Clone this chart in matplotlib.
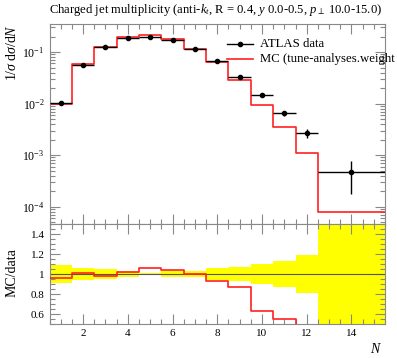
import numpy as np
import matplotlib
matplotlib.use("Agg")
import matplotlib.pyplot as plt
from matplotlib.ticker import MultipleLocator, LogLocator, NullFormatter, FixedLocator

plt.rcParams['font.family'] = ['Liberation Serif', 'DejaVu Serif']
plt.rcParams['mathtext.fontset'] = 'custom'
plt.rcParams['mathtext.rm'] = 'Liberation Serif'
plt.rcParams['mathtext.it'] = 'Liberation Serif:italic'

# ---- data ----
bin_lo = [0.5, 1.5, 2.5, 3.5, 4.5, 5.5, 6.5, 7.5, 8.5, 9.5, 10.5, 11.5, 12.5]
bin_hi = [1.5, 2.5, 3.5, 4.5, 5.5, 6.5, 7.5, 8.5, 9.5, 10.5, 11.5, 12.5, 15.5]
data_x = [1, 2, 3, 4, 5, 6, 7, 8, 9, 10, 11, 12, 14]
data_y = [0.0104, 0.0568, 0.127, 0.19, 0.20, 0.175, 0.116, 0.0678, 0.0332,
          0.0148, 0.00646, 0.00264, 4.74e-4]
data_relerr = [0.088, 0.063, 0.046, 0.027, 0.01, 0.03, 0.03, 0.06, 0.07,
               0.10, 0.13, 0.19, 0.63]
mc_y = [0.00994, 0.0575, 0.124, 0.193, 0.212, 0.182, 0.1157, 0.0631, 0.0289,
        0.00932, 0.00355, 0.00111, 7.9e-5]

title = r"Charged jet multiplicity (anti-$k_t$, R = 0.4, $y$ 0.0-0.5, $p_\perp$ 10.0-15.0)"
data_label = "ATLAS data"
mc_label = "MC (tune-analyses.weight"

W, H = 397, 358
fig = plt.figure(figsize=(W / 100, H / 100), dpi=100)
L, R = 49.5 / W, 385 / W
ax = fig.add_axes([L, 1 - 224 / H, R - L, 200 / H])
rax = fig.add_axes([L, 1 - 324 / H, R - L, 100 / H])

edges = np.array(bin_lo + [bin_hi[-1]])
dy = np.array(data_y)
derr = dy * np.array(data_relerr)
mcy = np.array(mc_y)

def step_vals(v):
    return np.append(v, v[-1])

# main panel
ax.step(edges, step_vals(mcy), where='post', color='#ff2020', lw=1.2, zorder=2)
xerr_lo = np.array(data_x) - np.array(bin_lo)
xerr_hi = np.array(bin_hi) - np.array(data_x)
ax.errorbar(data_x, dy, yerr=derr, xerr=[xerr_lo, xerr_hi], fmt='o', color='black',
            ms=3, lw=1, elinewidth=1, capsize=0, zorder=3)
ax.set_yscale('log')
ax.set_xlim(0.5, 15.5)
ax.set_ylim(4.6e-5, 0.35)

# legend (manual)
def px2ax(x, y):
    bb = ax.get_position()
    return ((x / W - bb.x0) / bb.width, ((1 - y / H) - bb.y0) / bb.height)
lx0, lx1 = 226.7, 253
a0 = px2ax(lx0, 44); a1 = px2ax(lx1, 44)
ax.plot([a0[0], a1[0]], [a0[1], a1[1]], color='black', lw=1, transform=ax.transAxes, clip_on=False)
am = px2ax(240, 44)
ax.plot([am[0]], [am[1]], 'o', color='black', ms=3, transform=ax.transAxes, clip_on=False)
b0 = px2ax(lx0, 59); b1 = px2ax(lx1, 59)
ax.plot([b0[0], b1[0]], [b0[1], b1[1]], color='#ff2020', lw=1.2, transform=ax.transAxes, clip_on=False)
t0 = px2ax(260.5, 44); t1 = px2ax(260.5, 59)
ax.text(t0[0], t0[1], data_label, transform=ax.transAxes, fontsize=9.2, va='center', ha='left')
ax.text(t1[0], t1[1], mc_label, transform=ax.transAxes, fontsize=9.2, va='center', ha='left')

# ratio panel
ratio_mc = mcy / dy
rel = np.array(data_relerr)
rax.fill_between(edges, step_vals(1 - rel), step_vals(1 + rel), step='post',
                 color='#ffff00', lw=0, zorder=1)
rax.axhline(1.0, color='#555555', lw=0.8, zorder=2)
rax.step(edges, step_vals(ratio_mc), where='post', color='#ff2020', lw=1.2, zorder=3)
rax.set_xlim(0.5, 15.5)
rax.set_ylim(0.5, 1.5)

gray = '#888888'
for a in (ax, rax):
    a.tick_params(which='both', direction='in', top=True, right=True, color=gray,
                  labelsize=8)
    a.tick_params(which='major', length=7, width=0.8)
    a.tick_params(which='minor', length=3.6, width=0.8)
    for s in a.spines.values():
        s.set_color(gray)
        s.set_linewidth(0.8)
    a.xaxis.set_major_locator(MultipleLocator(2))
    a.xaxis.set_minor_locator(MultipleLocator(0.5))

ax.yaxis.set_major_locator(LogLocator(base=10, numticks=10))
ax.yaxis.set_minor_locator(LogLocator(base=10, subs=np.arange(2, 10), numticks=20))
ax.yaxis.set_minor_formatter(NullFormatter())
ax.tick_params(axis='y', labelsize=8.5)
ax.set_xticklabels([])

rax.yaxis.set_major_locator(FixedLocator([0.6, 0.8, 1.0, 1.2, 1.4]))
rax.yaxis.set_major_formatter(matplotlib.ticker.FuncFormatter(lambda v, p: ('%g' % v)))
rax.yaxis.set_minor_locator(MultipleLocator(0.05))

fig.text(49 / W, 1 - 10 / H, title, fontsize=9.1, ha='left', va='center')
fig.text(12 / W, 1 - 24 / H, r"$1/\sigma\;\mathrm{d}\sigma/\mathrm{d}N$", rotation=90,
         fontsize=10, ha='center', va='top')
fig.text(12 / W, 1 - 273 / H, "MC/data", rotation=90, fontsize=10, ha='center', va='center')
fig.text(376 / W, 1 - 349 / H, r"$N$", fontsize=10, ha='center', va='center')

fig.savefig("out.png", dpi=100)
